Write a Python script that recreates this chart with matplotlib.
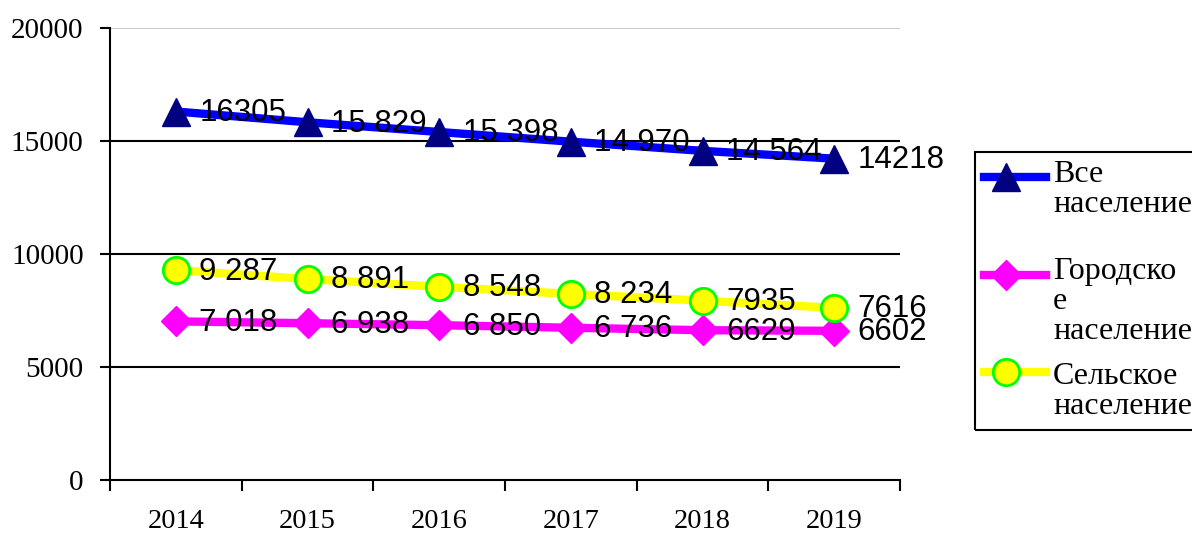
import matplotlib
matplotlib.use("Agg")
import matplotlib.pyplot as plt
from matplotlib.lines import Line2D
from matplotlib.patches import Rectangle

# data
years = ["2014", "2015", "2016", "2017", "2018", "2019"]
total = [16305, 15829, 15398, 14970, 14564, 14218]
urban = [7018, 6938, 6850, 6736, 6629, 6602]
rural = [9287, 8891, 8548, 8234, 7935, 7616]

total_lbl = ["16305", "15 829", "15 398", "14 970", "14 564", "14218"]
urban_lbl = ["7 018", "6 938", "6 850", "6 736", "6629", "6602"]
rural_lbl = ["9 287", "8 891", "8 548", "8 234", "7935", "7616"]

names = ["Все\nнаселение", "Городско\nе\nнаселение", "Сельское\nнаселение"]

serif = "Liberation Serif"
sans = "Liberation Sans"

W, H = 1192, 533
fig = plt.figure(figsize=(W / 100, H / 100), dpi=100)
ax = fig.add_axes([110 / W, 1 - 480 / H, 790 / W, 452 / H])

x = list(range(len(years)))

# gridlines first so they sit under the series
for yv in [5000, 10000, 15000]:
    ax.axhline(yv, color="black", lw=1.5, zorder=1)
ax.axhline(20000, color="#c0c0c0", lw=1.2, zorder=1)

styles = [
    dict(color="#0000ff", lw=6, marker="^", ms=20, mfc="#000080", mec="#000080"),
    dict(color="#ff00ff", lw=6, marker="D", ms=15, mfc="#ff00ff", mec="#ff00ff"),
    dict(color="#ffff00", lw=6, marker="o", ms=19, mfc="#ffff00", mec="#00ff00", mew=2),
]

for series, st in zip([total, urban, rural], styles):
    ax.plot(x, series, zorder=3, **st)

# data labels to the right of each point
for series, labels in [(total, total_lbl), (urban, urban_lbl), (rural, rural_lbl)]:
    for xi, (v, t) in enumerate(zip(series, labels)):
        ax.annotate(t, (xi, v), xytext=(17, -1), textcoords="offset points",
                    ha="left", va="center", fontsize=22.5, family=sans, zorder=4)

ax.set_xlim(-0.5, 5.5)
ax.set_ylim(0, 20000)
ax.set_yticks([0, 5000, 10000, 15000, 20000])
ax.set_yticklabels(["0", "5000", "10000", "15000", "20000"])
ax.set_xticks([i - 0.5 for i in range(len(years) + 1)])
ax.set_xticklabels([])
ax.set_xticks(x, minor=True)
ax.set_xticklabels(years, minor=True)
ax.tick_params(axis="x", which="minor", length=0, pad=21, labelsize=20.5)
ax.tick_params(axis="x", which="major", direction="out", length=8, width=1.5)
ax.tick_params(axis="y", direction="out", length=7, width=1.5, labelsize=21, pad=12)
for lab in ax.get_xticklabels(minor=True) + ax.get_yticklabels():
    lab.set_family(serif)

for s in ["top", "right"]:
    ax.spines[s].set_visible(False)
for s in ["left", "bottom"]:
    ax.spines[s].set_linewidth(1.5)

# legend box drawn by hand so the keys line up with the first text line
def fx(px):
    return px / W

def fy(py):
    return 1 - py / H

fig.patches.append(Rectangle((fx(975), fy(430)), fx(240), 278 / H, transform=fig.transFigure,
                             fill=False, edgecolor="black", lw=1.5))
key_y = [177, 275, 372]
text_top = [160, 257, 362]
for name, st, ky, ty in zip(names, styles, key_y, text_top):
    fig.lines.append(Line2D([fx(984), fx(1006), fx(1046)], [fy(ky)] * 3,
                            transform=fig.transFigure, markevery=[1], **st))
    fig.text(fx(1053), fy(ty), name, ha="left", va="top", fontsize=23,
             family=serif, linespacing=1.05)

fig.savefig("out.png", dpi=100)
